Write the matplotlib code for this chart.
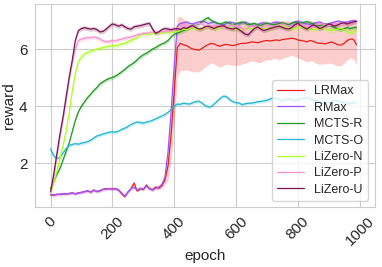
import matplotlib
matplotlib.use("Agg")
import matplotlib.pyplot as plt
import numpy as np
import seaborn as sns

# epochs sampled every 10
epochs = np.arange(0, 1000, 10)

lrmax = [0.88, 0.88, 0.9, 0.9, 0.92, 0.92, 0.93, 0.95, 0.92, 0.95,
         0.97, 1.0, 1.02, 0.98, 1.05, 1.0, 1.03, 1.08, 1.1, 1.1,
         1.1, 1.1, 1.05, 0.92, 0.82, 0.98, 1.1, 1.3, 1.02, 1.1,
         1.07, 1.23, 1.1, 1.07, 1.16, 1.12, 1.2, 1.4, 1.9, 3.0,
         4.5, 6.05, 6.2, 6.15, 6.12, 6.05, 6.0, 5.98, 5.96, 6.02,
         6.1, 6.15, 6.2, 6.18, 6.12, 6.1, 6.15, 6.16, 6.14, 6.12,
         6.15, 6.18, 6.2, 6.2, 6.22, 6.25, 6.24, 6.22, 6.25, 6.28,
         6.3, 6.28, 6.3, 6.32, 6.3, 6.33, 6.35, 6.36, 6.38, 6.36,
         6.32, 6.3, 6.28, 6.25, 6.3, 6.27, 6.22, 6.2, 6.2, 6.18,
         6.22, 6.25, 6.2, 6.15, 6.14, 6.2, 6.3, 6.35, 6.34, 6.15]
lrmax_std = [0.03, 0.03, 0.03, 0.03, 0.03, 0.03, 0.03, 0.03, 0.03, 0.03,
             0.03, 0.03, 0.03, 0.03, 0.03, 0.03, 0.03, 0.03, 0.03, 0.03,
             0.04, 0.04, 0.04, 0.04, 0.04, 0.04, 0.04, 0.04, 0.04, 0.04,
             0.04, 0.05, 0.05, 0.05, 0.06, 0.06, 0.08, 0.15, 0.5, 0.9,
             1.2, 1.05, 0.95, 0.9, 0.85, 0.82, 0.8, 0.78, 0.76, 0.75,
             0.72, 0.7, 0.68, 0.7, 0.72, 0.74, 0.72, 0.7, 0.68, 0.7,
             0.72, 0.74, 0.72, 0.7, 0.68, 0.66, 0.68, 0.7, 0.72, 0.7,
             0.68, 0.66, 0.64, 0.66, 0.68, 0.66, 0.64, 0.62, 0.6, 0.62,
             0.64, 0.66, 0.68, 0.7, 0.72, 0.7, 0.72, 0.74, 0.72, 0.7,
             0.72, 0.74, 0.76, 0.74, 0.72, 0.7, 0.68, 0.66, 0.68, 0.7]

rmax = [0.88, 0.88, 0.9, 0.9, 0.92, 0.92, 0.93, 0.95, 0.92, 0.95,
        0.97, 1.0, 1.02, 0.98, 1.05, 1.0, 1.03, 1.08, 1.08, 1.1,
        1.09, 1.1, 1.05, 0.95, 0.84, 0.98, 1.1, 1.15, 1.05, 1.12,
        1.08, 1.2, 1.1, 1.05, 1.12, 1.15, 1.25, 1.5, 2.4, 3.8,
        5.4, 6.8, 6.9, 6.92, 6.95, 6.9, 6.88, 6.92, 6.95, 6.98,
        6.95, 6.9, 6.92, 6.95, 6.9, 6.88, 6.85, 6.9, 6.95, 6.92,
        6.9, 6.88, 6.92, 6.95, 6.9, 6.85, 6.82, 6.86, 6.9, 6.92,
        6.9, 6.88, 6.92, 6.95, 6.93, 6.9, 6.88, 6.85, 6.9, 6.95,
        6.98, 6.95, 6.9, 6.88, 6.86, 6.9, 6.92, 6.95, 6.9, 6.85,
        6.88, 6.92, 6.95, 6.98, 6.96, 6.93, 6.95, 6.98, 7.0, 6.98]

mcts_r = [1.1, 1.35, 1.6, 1.8, 2.1, 2.4, 2.7, 3.1, 3.5, 3.8,
          4.0, 4.15, 4.3, 4.42, 4.55, 4.65, 4.78, 4.85, 4.92, 4.97,
          5.0, 5.05, 5.12, 5.2, 5.28, 5.38, 5.45, 5.52, 5.62, 5.72,
          5.8, 5.85, 5.92, 6.0, 6.05, 6.12, 6.18, 6.22, 6.3, 6.42,
          6.52, 6.55, 6.6, 6.65, 6.7, 6.78, 6.82, 6.85, 6.88, 6.95,
          7.05, 7.1, 7.0, 6.95, 6.9, 6.88, 6.92, 6.95, 6.9, 6.85,
          6.88, 6.92, 6.95, 6.9, 6.85, 6.88, 6.9, 6.85, 6.82, 6.88,
          6.9, 6.88, 6.85, 6.87, 6.9, 6.92, 6.88, 6.85, 6.9, 6.95,
          6.92, 6.9, 6.94, 6.96, 6.92, 6.88, 6.85, 6.82, 6.85, 6.88,
          6.84, 6.8, 6.75, 6.7, 6.68, 6.72, 6.75, 6.72, 6.75, 6.76]

mcts_o = [2.5, 2.25, 2.15, 2.2, 2.35, 2.5, 2.62, 2.65, 2.68, 2.66,
          2.7, 2.72, 2.75, 2.8, 2.88, 2.95, 2.98, 3.02, 3.05, 3.08,
          3.1, 3.08, 3.12, 3.18, 3.22, 3.28, 3.35, 3.4, 3.44, 3.42,
          3.4, 3.44, 3.46, 3.5, 3.55, 3.6, 3.65, 3.7, 3.78, 3.88,
          4.0, 4.07, 4.06, 4.1, 4.08, 4.07, 4.12, 4.15, 4.17, 4.1,
          4.02, 3.97, 3.98, 4.08, 4.18, 4.28, 4.35, 4.32, 4.22, 4.15,
          4.12, 4.1, 4.05, 4.08, 4.1, 4.1, 4.12, 4.15, 4.16, 4.18,
          4.2, 4.25, 4.28, 4.26, 4.22, 4.2, 4.22, 4.25, 4.23, 4.2,
          4.22, 4.25, 4.28, 4.3, 4.26, 4.22, 4.2, 4.15, 4.12, 4.1,
          4.12, 4.15, 4.2, 4.18, 4.15, 4.12, 4.1, 4.1, 4.12, 4.1]

lizero_n = [0.95, 1.3, 1.7, 2.15, 2.6, 3.1, 3.75, 4.5, 5.15, 5.55,
            5.72, 5.83, 5.88, 5.92, 5.96, 6.0, 6.02, 6.05, 6.08, 6.1,
            6.12, 6.1, 6.14, 6.18, 6.2, 6.25, 6.3, 6.35, 6.4, 6.5,
            6.52, 6.55, 6.5, 6.55, 6.56, 6.58, 6.55, 6.58, 6.6, 6.58,
            6.6, 6.62, 6.65, 6.7, 6.68, 6.72, 6.75, 6.7, 6.68, 6.72,
            6.75, 6.78, 6.75, 6.72, 6.7, 6.74, 6.78, 6.8, 6.76, 6.72,
            6.7, 6.68, 6.7, 6.74, 6.72, 6.7, 6.75, 6.8, 6.78, 6.72,
            6.7, 6.72, 6.75, 6.78, 6.8, 6.82, 6.78, 6.74, 6.7, 6.72,
            6.76, 6.78, 6.74, 6.72, 6.7, 6.68, 6.7, 6.72, 6.75, 6.7,
            6.66, 6.65, 6.68, 6.7, 6.72, 6.68, 6.62, 6.56, 6.6, 6.66]

lizero_p = [0.95, 1.5, 2.2, 2.9, 3.5, 4.2, 4.9, 5.5, 6.0, 6.3,
            6.35, 6.38, 6.4, 6.4, 6.42, 6.4, 6.35, 6.28, 6.25, 6.27,
            6.3, 6.28, 6.32, 6.35, 6.38, 6.4, 6.42, 6.45, 6.5, 6.52,
            6.55, 6.55, 6.58, 6.6, 6.58, 6.6, 6.62, 6.6, 6.62, 6.65,
            6.68, 6.75, 6.8, 6.85, 6.82, 6.78, 6.8, 6.85, 6.9, 6.88,
            6.82, 6.8, 6.78, 6.82, 6.85, 6.8, 6.75, 6.78, 6.82, 6.85,
            6.8, 6.78, 6.72, 6.7, 6.75, 6.8, 6.82, 6.78, 6.75, 6.8,
            6.85, 6.82, 6.78, 6.8, 6.85, 6.88, 6.85, 6.8, 6.78, 6.82,
            6.86, 6.88, 6.84, 6.8, 6.78, 6.82, 6.86, 6.9, 6.88, 6.85,
            6.82, 6.85, 6.88, 6.9, 6.92, 6.88, 6.9, 6.92, 6.95, 6.95]

lizero_u = [1.0, 1.6, 2.3, 3.0, 3.6, 4.3, 5.0, 5.6, 6.3, 6.65,
            6.72, 6.75, 6.72, 6.7, 6.72, 6.68, 6.6, 6.62, 6.7, 6.8,
            6.88, 6.85, 6.8, 6.85, 6.78, 6.72, 6.7, 6.78, 6.8, 6.82,
            6.85, 6.88, 6.9, 6.7, 6.55, 6.6, 6.68, 6.72, 6.7, 6.68,
            6.7, 6.72, 6.68, 6.75, 6.72, 6.78, 6.82, 6.75, 6.7, 6.72,
            6.78, 6.8, 6.76, 6.72, 6.78, 6.8, 6.82, 6.75, 6.72, 6.7,
            6.74, 6.68, 6.6, 6.52, 6.5, 6.62, 6.72, 6.78, 6.7, 6.65,
            6.68, 6.72, 6.75, 6.78, 6.8, 6.76, 6.72, 6.7, 6.75, 6.85,
            6.9, 6.82, 6.75, 6.7, 6.78, 6.85, 6.8, 6.72, 6.75, 6.82,
            6.88, 6.85, 6.8, 6.85, 6.9, 6.92, 6.88, 6.92, 6.95, 6.97]

labels = ['LRMax', 'RMax', 'MCTS-R', 'MCTS-O', 'LiZero-N', 'LiZero-P', 'LiZero-U']
series = [lrmax, rmax, mcts_r, mcts_o, lizero_n, lizero_p, lizero_u]
stds = [lrmax_std, 0.06, 0.07, 0.06, 0.08, 0.08, 0.08]
colors = ['#ee1c1c', '#9955ff', '#1f9a1f', '#1fb8d2', '#aaff1e', '#ff8fd0', '#7b1450']

sns.set_style("whitegrid")
plt.rcParams['font.family'] = ['Liberation Sans', 'DejaVu Sans']

fig, ax = plt.subplots(figsize=(3.82, 2.67), dpi=100)
fig.subplots_adjust(left=0.092, right=0.981, top=0.985, bottom=0.225)

for vals, sd, color, label in zip(series, stds, colors, labels):
    vals = np.array(vals)
    sd = np.array(sd)
    ax.fill_between(epochs, vals - sd, vals + sd, color=color, alpha=0.22, linewidth=0)
    ax.plot(epochs, vals, color=color, lw=0.9, label=label)

ax.set_xlim(-50, 1049)
ax.set_ylim(0.46, 7.58)
ax.set_yticks([2, 4, 6])
ax.set_xticks([0, 200, 400, 600, 800, 1000])
ax.tick_params(labelsize=11, pad=2)
plt.setp(ax.get_xticklabels(), rotation=45)
ax.set_xlabel('epoch', fontsize=11, labelpad=0)
ax.set_ylabel('reward', fontsize=11, labelpad=2)
ax.legend(loc='lower right', fontsize=9, labelspacing=0.35, handlelength=2.2)

fig.savefig('out.png', dpi=100)
